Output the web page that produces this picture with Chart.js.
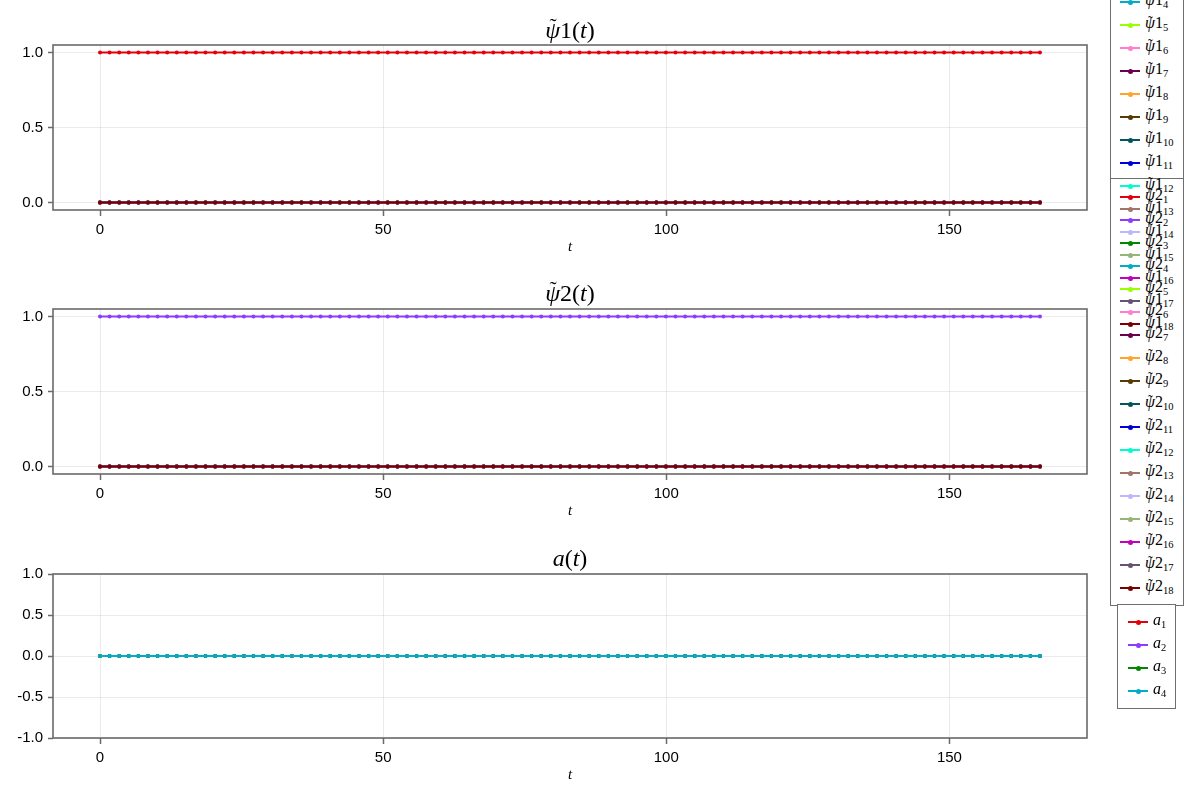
<!DOCTYPE html>
<html>
<head>
<meta charset="utf-8">
<script src="https://cdn.jsdelivr.net/npm/chart.js@4.4.1/dist/chart.umd.min.js"></script>
<style>
  html, body { margin: 0; padding: 0; background: #fff; }
  body { width: 1200px; height: 800px; overflow: hidden; position: relative; font-family: "Liberation Sans", Arial, sans-serif; }
  canvas.plot { position: absolute; left: 0; top: 0; }
  .title { position: absolute; left: 570px; transform: translate(-50%, -50%); font-family: "Liberation Serif", serif; font-size: 24px; color: #000; white-space: nowrap; line-height: 1; }
  .lbox { position: absolute; border: 1.5px solid #6f6f6f; background: #fff; box-sizing: border-box; z-index: 1; }
  .entry { position: absolute; z-index: 2; height: 0; }
  .sw { position: absolute; width: 20px; height: 2px; top: -1px; left: 0; }
  .dot { position: absolute; width: 5px; height: 5px; border-radius: 50%; left: 7.5px; top: -1.5px; }
  .lab { position: absolute; top: 0; transform: translateY(-55%); font-family: "Liberation Serif", serif; font-size: 16px; white-space: nowrap; color: #000; line-height: 1; }
  .lab sub { font-size: 10.5px; vertical-align: -3px; }
  .psi { position: relative; display: inline-block; font-style: italic; }
  .psi .tl { position: absolute; left: 0.2em; top: -0.08em; font-style: normal; font-size: 0.9em; }
</style>
</head>
<body>
<canvas id="c1" class="plot" width="1200" height="800"></canvas>
<canvas id="c2" class="plot" width="1200" height="800"></canvas>
<canvas id="c3" class="plot" width="1200" height="800"></canvas>

<div class="title" style="top:30px"><span class="psi">ψ<span class="tl">˜</span></span>1(<i>t</i>)</div>
<div class="title" style="top:293px"><span class="psi">ψ<span class="tl">˜</span></span>2(<i>t</i>)</div>
<div class="title" style="top:558px"><i>a</i>(<i>t</i>)</div>

<div id="legends"></div>

<script>
// ---------------- DATA ----------------
const T = [0,1.69,3.39,5.08,6.78,8.47,10.16,11.86,13.55,15.24,16.94,18.63,20.33,22.02,23.71,25.41,27.10,28.80,30.49,32.18,
  33.88,35.57,37.27,38.96,40.65,42.35,44.04,45.73,47.43,49.12,50.82,52.51,54.20,55.90,57.59,59.29,60.98,62.67,64.37,66.06,
  67.76,69.45,71.14,72.84,74.53,76.22,77.92,79.61,81.31,83.00,84.69,86.39,88.08,89.78,91.47,93.16,94.86,96.55,98.24,99.94,
  101.63,103.33,105.02,106.71,108.41,110.10,111.80,113.49,115.18,116.88,118.57,120.27,121.96,123.65,125.35,127.04,128.73,130.43,132.12,133.82,
  135.51,137.20,138.90,140.59,142.29,143.98,145.67,147.37,149.06,150.76,152.45,154.14,155.84,157.53,159.22,160.92,162.61,164.31,166.00];

const ONES = [1,1,1,1,1,1,1,1,1,1,1,
  1,1,1,1,1,1,1,1,1,1,1,
  1,1,1,1,1,1,1,1,1,1,1,
  1,1,1,1,1,1,1,1,1,1,1,
  1,1,1,1,1,1,1,1,1,1,1,
  1,1,1,1,1,1,1,1,1,1,1,
  1,1,1,1,1,1,1,1,1,1,1,
  1,1,1,1,1,1,1,1,1,1,1,
  1,1,1,1,1,1,1,1,1,1,1];

const ZEROS = [0,0,0,0,0,0,0,0,0,0,0,
  0,0,0,0,0,0,0,0,0,0,0,
  0,0,0,0,0,0,0,0,0,0,0,
  0,0,0,0,0,0,0,0,0,0,0,
  0,0,0,0,0,0,0,0,0,0,0,
  0,0,0,0,0,0,0,0,0,0,0,
  0,0,0,0,0,0,0,0,0,0,0,
  0,0,0,0,0,0,0,0,0,0,0,
  0,0,0,0,0,0,0,0,0,0,0];

const PSI1_LABELS = ["ψ̃1_1","ψ̃1_2","ψ̃1_3","ψ̃1_4","ψ̃1_5","ψ̃1_6","ψ̃1_7","ψ̃1_8","ψ̃1_9",
  "ψ̃1_10","ψ̃1_11","ψ̃1_12","ψ̃1_13","ψ̃1_14","ψ̃1_15","ψ̃1_16","ψ̃1_17","ψ̃1_18"];
const PSI1_SERIES = [ONES, ZEROS, ZEROS, ZEROS, ZEROS, ZEROS, ZEROS, ZEROS, ZEROS,
  ZEROS, ZEROS, ZEROS, ZEROS, ZEROS, ZEROS, ZEROS, ZEROS, ZEROS];

const PSI2_LABELS = ["ψ̃2_1","ψ̃2_2","ψ̃2_3","ψ̃2_4","ψ̃2_5","ψ̃2_6","ψ̃2_7","ψ̃2_8","ψ̃2_9",
  "ψ̃2_10","ψ̃2_11","ψ̃2_12","ψ̃2_13","ψ̃2_14","ψ̃2_15","ψ̃2_16","ψ̃2_17","ψ̃2_18"];
const PSI2_SERIES = [ZEROS, ONES, ZEROS, ZEROS, ZEROS, ZEROS, ZEROS, ZEROS, ZEROS,
  ZEROS, ZEROS, ZEROS, ZEROS, ZEROS, ZEROS, ZEROS, ZEROS, ZEROS];

const A_LABELS = ["a_1","a_2","a_3","a_4"];
const A_SERIES = [ZEROS, ZEROS, ZEROS, ZEROS];

const PALETTE = ["#e4000b","#8c3bff","#018700","#00acc6","#97ff00","#ff7ed1","#6b004f","#ffa52f","#573b00",
  "#005659","#0000dd","#00fdcf","#a1756a","#bcb7ff","#95b577","#bf03b8","#645474","#790000"];

const X_TICKS = [0, 50, 100, 150];
const Y_TICKS_PSI = [0, 0.5, 1];
const Y_TICKS_A = [-1, -0.5, 0, 0.5, 1];

// ---------------- CHARTS ----------------
const framePlugin = {
  id: 'frame',
  afterDatasetsDraw(chart) {
    const { ctx, chartArea: a } = chart;
    ctx.save();
    ctx.strokeStyle = '#6a6a6a';
    ctx.lineWidth = 1.6;
    ctx.strokeRect(a.left, a.top, a.right - a.left, a.bottom - a.top);
    ctx.restore();
  }
};

function makeDatasets(labels, series) {
  const n = labels.length;
  return labels.map((lab, i) => ({
    label: lab,
    data: T.map((t, k) => ({ x: t, y: series[i][k] })),
    borderColor: PALETTE[i],
    backgroundColor: PALETTE[i],
    pointBackgroundColor: PALETTE[i],
    pointBorderWidth: 0,
    pointRadius: 2,
    borderWidth: 2,
    tension: 0,
    order: n - i
  }));
}

function makeChart(id, labels, series, top, bottom, yMin, yMax, yTicks) {
  const tickFont = { family: '"Liberation Sans", Arial, sans-serif', size: 15 };
  return new Chart(document.getElementById(id), {
    type: 'line',
    data: { datasets: makeDatasets(labels, series) },
    options: {
      responsive: false,
      animation: false,
      devicePixelRatio: 1,
      events: [],
      layout: { padding: { left: 0, right: 113, top: top, bottom: 800 - bottom - 46 } },
      plugins: { legend: { display: false }, tooltip: { enabled: false }, title: { display: false } },
      scales: {
        x: {
          type: 'linear',
          min: -8.3, max: 174.3,
          afterBuildTicks: s => { s.ticks = X_TICKS.map(v => ({ value: v })); },
          afterFit: s => { s.height = 46; },
          ticks: { color: '#000', font: tickFont, padding: 5, maxRotation: 0, callback: v => String(v) },
          grid: { color: 'rgba(0,0,0,0.08)', lineWidth: 1, tickColor: '#6a6a6a', tickLength: 6, tickWidth: 1.5 },
          border: { display: false },
          title: { display: true, text: 't', color: '#000', padding: 0,
                   font: { family: '"Liberation Serif", serif', style: 'italic', size: 15 } }
        },
        y: {
          type: 'linear',
          min: yMin, max: yMax,
          afterBuildTicks: s => { s.ticks = yTicks.map(v => ({ value: v })); },
          afterFit: s => { s.width = 53; },
          ticks: { color: '#000', font: tickFont, padding: 5, callback: v => Number(v).toFixed(1) },
          grid: { color: 'rgba(0,0,0,0.08)', lineWidth: 1, tickColor: '#6a6a6a', tickLength: 5, tickWidth: 1.5 },
          border: { display: false }
        }
      }
    },
    plugins: [framePlugin]
  });
}

makeChart('c1', PSI1_LABELS, PSI1_SERIES, 45, 210, -0.05, 1.05, Y_TICKS_PSI);
makeChart('c2', PSI2_LABELS, PSI2_SERIES, 309, 474, -0.05, 1.05, Y_TICKS_PSI);
makeChart('c3', A_LABELS, A_SERIES, 574, 738, -1, 1, Y_TICKS_A);

// ---------------- LEGENDS ----------------
const legendsEl = document.getElementById('legends');
function labelHTML(s) {
  const [base, idx] = s.split('_');
  if (base.startsWith('ψ̃')) {
    return '<span class="psi">ψ<span class="tl">˜</span></span>' + base.slice(2) + '<sub>' + idx + '</sub>';
  }
  return '<i>' + base + '</i><sub>' + idx + '</sub>';
}
function addBox(left, top, width, height) {
  const d = document.createElement('div');
  d.className = 'lbox';
  d.style.left = left + 'px'; d.style.top = top + 'px';
  d.style.width = width + 'px'; d.style.height = height + 'px';
  legendsEl.appendChild(d);
}
function addEntries(labels, swX, textX, firstY, step) {
  labels.forEach((lab, i) => {
    const y = firstY + i * step;
    const e = document.createElement('div');
    e.className = 'entry';
    e.style.left = swX + 'px'; e.style.top = y + 'px';
    e.innerHTML = '<span class="sw" style="background:' + PALETTE[i] + '"><span class="dot" style="background:' + PALETTE[i] + '"></span></span>' +
                  '<span class="lab" style="left:' + (textX - swX) + 'px">' + labelHTML(lab) + '</span>';
    legendsEl.appendChild(e);
  });
}
addBox(1110, -87, 74, 431);
addBox(1110, 178, 74, 428);
addBox(1117, 604, 59, 105);
addEntries(PSI1_LABELS, 1120, 1145, -67, 23);
addEntries(PSI2_LABELS, 1120, 1145, 197, 23);
addEntries(A_LABELS, 1128, 1153, 622, 23);
</script>
</body>
</html>
